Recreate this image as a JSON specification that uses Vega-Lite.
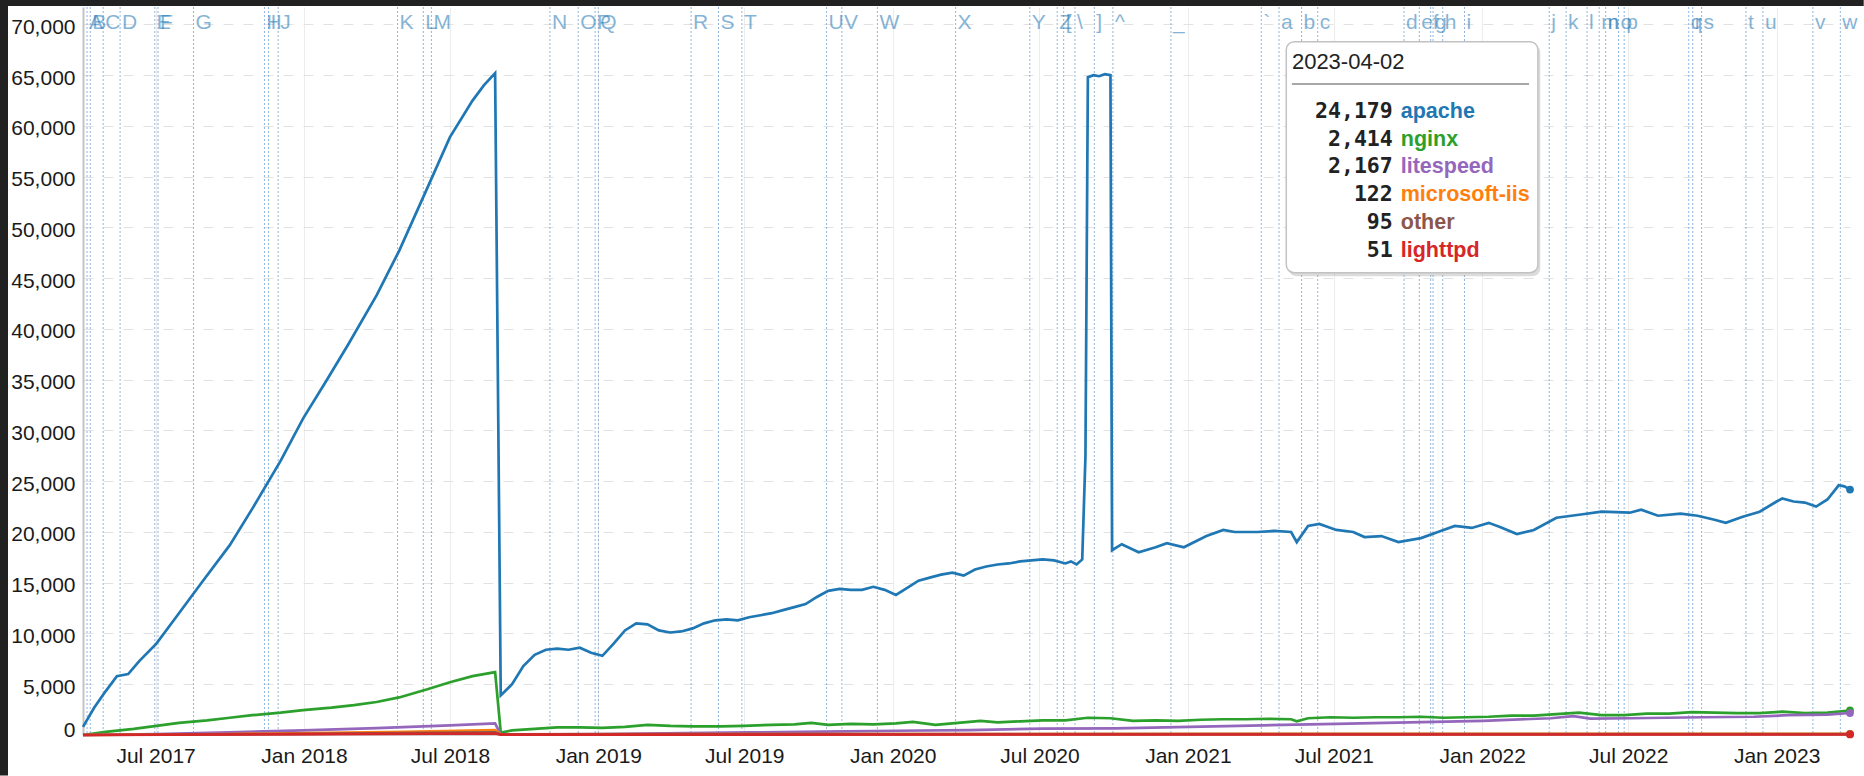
{
  "$schema": "https://vega.github.io/schema/vega-lite/v6.json",
  "width": 1767,
  "height": 728,
  "autosize": {"type": "none"},
  "padding": {"left": 83, "top": 7, "right": 14, "bottom": 41},
  "background": "white",
  "config": {
    "view": {"stroke": null},
    "axis": {"labelFont": "Liberation Sans", "labelFontSize": 21, "labelColor": "#1a1a1a", "ticks": false, "title": null},
    "text": {"font": "Liberation Sans"}
  },
  "datasets": {
    "series": [
      {"s":"apache","d":"2017-04-02","v":800},{"s":"apache","d":"2017-04-16","v":2700},{"s":"apache","d":"2017-04-30","v":4300},{"s":"apache","d":"2017-05-14","v":5800},{"s":"apache","d":"2017-05-28","v":6000},{"s":"apache","d":"2017-06-11","v":7300},{"s":"apache","d":"2017-07-02","v":9000},{"s":"apache","d":"2017-07-30","v":12000},{"s":"apache","d":"2017-08-27","v":15000},{"s":"apache","d":"2017-10-01","v":18700},{"s":"apache","d":"2017-10-29","v":22300},{"s":"apache","d":"2017-12-03","v":27000},{"s":"apache","d":"2017-12-31","v":31200},{"s":"apache","d":"2018-01-28","v":34800},{"s":"apache","d":"2018-02-25","v":38500},{"s":"apache","d":"2018-04-01","v":43300},{"s":"apache","d":"2018-04-29","v":47700},{"s":"apache","d":"2018-06-03","v":53900},{"s":"apache","d":"2018-07-01","v":58900},{"s":"apache","d":"2018-07-29","v":62500},{"s":"apache","d":"2018-08-12","v":64000},{"s":"apache","d":"2018-08-26","v":65200},{"s":"apache","d":"2018-09-02","v":3900},{"s":"apache","d":"2018-09-16","v":5000},{"s":"apache","d":"2018-09-30","v":6800},{"s":"apache","d":"2018-10-14","v":7900},{"s":"apache","d":"2018-10-28","v":8400},{"s":"apache","d":"2018-11-11","v":8500},{"s":"apache","d":"2018-11-25","v":8400},{"s":"apache","d":"2018-12-09","v":8600},{"s":"apache","d":"2018-12-23","v":8100},{"s":"apache","d":"2019-01-06","v":7800},{"s":"apache","d":"2019-01-20","v":9000},{"s":"apache","d":"2019-02-03","v":10300},{"s":"apache","d":"2019-02-17","v":11000},{"s":"apache","d":"2019-03-03","v":10900},{"s":"apache","d":"2019-03-17","v":10300},{"s":"apache","d":"2019-03-31","v":10100},{"s":"apache","d":"2019-04-14","v":10200},{"s":"apache","d":"2019-04-28","v":10500},{"s":"apache","d":"2019-05-12","v":11000},{"s":"apache","d":"2019-05-26","v":11300},{"s":"apache","d":"2019-06-09","v":11400},{"s":"apache","d":"2019-06-23","v":11300},{"s":"apache","d":"2019-07-07","v":11600},{"s":"apache","d":"2019-07-21","v":11800},{"s":"apache","d":"2019-08-04","v":12000},{"s":"apache","d":"2019-08-18","v":12300},{"s":"apache","d":"2019-09-01","v":12600},{"s":"apache","d":"2019-09-15","v":12900},{"s":"apache","d":"2019-09-29","v":13600},{"s":"apache","d":"2019-10-13","v":14200},{"s":"apache","d":"2019-10-27","v":14400},{"s":"apache","d":"2019-11-10","v":14300},{"s":"apache","d":"2019-11-24","v":14300},{"s":"apache","d":"2019-12-08","v":14600},{"s":"apache","d":"2019-12-22","v":14300},{"s":"apache","d":"2020-01-05","v":13800},{"s":"apache","d":"2020-01-19","v":14500},{"s":"apache","d":"2020-02-02","v":15200},{"s":"apache","d":"2020-02-16","v":15500},{"s":"apache","d":"2020-03-01","v":15800},{"s":"apache","d":"2020-03-15","v":16000},{"s":"apache","d":"2020-03-29","v":15700},{"s":"apache","d":"2020-04-12","v":16300},{"s":"apache","d":"2020-04-26","v":16600},{"s":"apache","d":"2020-05-10","v":16800},{"s":"apache","d":"2020-05-24","v":16900},{"s":"apache","d":"2020-06-07","v":17100},{"s":"apache","d":"2020-06-21","v":17200},{"s":"apache","d":"2020-07-05","v":17300},{"s":"apache","d":"2020-07-19","v":17200},{"s":"apache","d":"2020-08-02","v":16900},{"s":"apache","d":"2020-08-09","v":17100},{"s":"apache","d":"2020-08-16","v":16800},{"s":"apache","d":"2020-08-23","v":17300},{"s":"apache","d":"2020-08-27","v":27500},{"s":"apache","d":"2020-08-30","v":64800},{"s":"apache","d":"2020-09-06","v":65000},{"s":"apache","d":"2020-09-13","v":64900},{"s":"apache","d":"2020-09-20","v":65100},{"s":"apache","d":"2020-09-27","v":65000},{"s":"apache","d":"2020-09-29","v":18200},{"s":"apache","d":"2020-10-11","v":18800},{"s":"apache","d":"2020-11-01","v":18000},{"s":"apache","d":"2020-11-22","v":18500},{"s":"apache","d":"2020-12-06","v":18900},{"s":"apache","d":"2020-12-27","v":18500},{"s":"apache","d":"2021-01-24","v":19600},{"s":"apache","d":"2021-02-14","v":20200},{"s":"apache","d":"2021-02-28","v":20000},{"s":"apache","d":"2021-03-28","v":20000},{"s":"apache","d":"2021-04-18","v":20100},{"s":"apache","d":"2021-05-09","v":20000},{"s":"apache","d":"2021-05-16","v":19000},{"s":"apache","d":"2021-05-30","v":20600},{"s":"apache","d":"2021-06-13","v":20800},{"s":"apache","d":"2021-07-04","v":20200},{"s":"apache","d":"2021-07-25","v":20000},{"s":"apache","d":"2021-08-08","v":19500},{"s":"apache","d":"2021-08-29","v":19600},{"s":"apache","d":"2021-09-19","v":19000},{"s":"apache","d":"2021-10-17","v":19400},{"s":"apache","d":"2021-11-07","v":20000},{"s":"apache","d":"2021-11-28","v":20600},{"s":"apache","d":"2021-12-19","v":20400},{"s":"apache","d":"2022-01-09","v":20900},{"s":"apache","d":"2022-01-23","v":20500},{"s":"apache","d":"2022-02-13","v":19800},{"s":"apache","d":"2022-03-06","v":20200},{"s":"apache","d":"2022-04-03","v":21400},{"s":"apache","d":"2022-05-01","v":21700},{"s":"apache","d":"2022-05-29","v":22000},{"s":"apache","d":"2022-07-03","v":21900},{"s":"apache","d":"2022-07-17","v":22200},{"s":"apache","d":"2022-08-07","v":21600},{"s":"apache","d":"2022-09-04","v":21800},{"s":"apache","d":"2022-09-25","v":21600},{"s":"apache","d":"2022-10-16","v":21200},{"s":"apache","d":"2022-10-30","v":20900},{"s":"apache","d":"2022-11-20","v":21500},{"s":"apache","d":"2022-12-11","v":22000},{"s":"apache","d":"2023-01-01","v":23000},{"s":"apache","d":"2023-01-08","v":23300},{"s":"apache","d":"2023-01-22","v":23000},{"s":"apache","d":"2023-02-05","v":22900},{"s":"apache","d":"2023-02-19","v":22500},{"s":"apache","d":"2023-03-05","v":23200},{"s":"apache","d":"2023-03-19","v":24600},{"s":"apache","d":"2023-03-26","v":24500},{"s":"apache","d":"2023-04-02","v":24179},
      {"s":"nginx","d":"2017-04-02","v":0},{"s":"nginx","d":"2017-04-30","v":300},{"s":"nginx","d":"2017-06-04","v":600},{"s":"nginx","d":"2017-07-02","v":900},{"s":"nginx","d":"2017-07-30","v":1200},{"s":"nginx","d":"2017-09-03","v":1450},{"s":"nginx","d":"2017-10-01","v":1700},{"s":"nginx","d":"2017-10-29","v":1950},{"s":"nginx","d":"2017-12-03","v":2200},{"s":"nginx","d":"2017-12-31","v":2450},{"s":"nginx","d":"2018-02-04","v":2700},{"s":"nginx","d":"2018-03-04","v":2950},{"s":"nginx","d":"2018-04-01","v":3250},{"s":"nginx","d":"2018-04-29","v":3700},{"s":"nginx","d":"2018-06-03","v":4500},{"s":"nginx","d":"2018-07-01","v":5200},{"s":"nginx","d":"2018-07-29","v":5800},{"s":"nginx","d":"2018-08-26","v":6200},{"s":"nginx","d":"2018-09-02","v":250},{"s":"nginx","d":"2018-09-16","v":450},{"s":"nginx","d":"2018-10-14","v":600},{"s":"nginx","d":"2018-11-11","v":750},{"s":"nginx","d":"2018-12-09","v":750},{"s":"nginx","d":"2019-01-06","v":700},{"s":"nginx","d":"2019-02-03","v":800},{"s":"nginx","d":"2019-03-03","v":1000},{"s":"nginx","d":"2019-03-31","v":900},{"s":"nginx","d":"2019-04-28","v":850},{"s":"nginx","d":"2019-06-02","v":850},{"s":"nginx","d":"2019-06-30","v":900},{"s":"nginx","d":"2019-08-04","v":1000},{"s":"nginx","d":"2019-09-01","v":1050},{"s":"nginx","d":"2019-09-22","v":1200},{"s":"nginx","d":"2019-10-13","v":1000},{"s":"nginx","d":"2019-11-10","v":1100},{"s":"nginx","d":"2019-12-08","v":1050},{"s":"nginx","d":"2020-01-05","v":1150},{"s":"nginx","d":"2020-01-26","v":1300},{"s":"nginx","d":"2020-02-23","v":1000},{"s":"nginx","d":"2020-03-22","v":1200},{"s":"nginx","d":"2020-04-19","v":1400},{"s":"nginx","d":"2020-05-10","v":1250},{"s":"nginx","d":"2020-06-07","v":1350},{"s":"nginx","d":"2020-07-05","v":1450},{"s":"nginx","d":"2020-08-02","v":1450},{"s":"nginx","d":"2020-08-30","v":1700},{"s":"nginx","d":"2020-09-27","v":1650},{"s":"nginx","d":"2020-10-25","v":1400},{"s":"nginx","d":"2020-11-22","v":1450},{"s":"nginx","d":"2020-12-20","v":1400},{"s":"nginx","d":"2021-01-17","v":1500},{"s":"nginx","d":"2021-02-14","v":1550},{"s":"nginx","d":"2021-03-14","v":1550},{"s":"nginx","d":"2021-04-11","v":1600},{"s":"nginx","d":"2021-05-09","v":1550},{"s":"nginx","d":"2021-05-16","v":1350},{"s":"nginx","d":"2021-05-30","v":1650},{"s":"nginx","d":"2021-06-27","v":1750},{"s":"nginx","d":"2021-07-25","v":1700},{"s":"nginx","d":"2021-08-22","v":1750},{"s":"nginx","d":"2021-09-19","v":1750},{"s":"nginx","d":"2021-10-17","v":1800},{"s":"nginx","d":"2021-11-14","v":1700},{"s":"nginx","d":"2021-12-12","v":1750},{"s":"nginx","d":"2022-01-09","v":1800},{"s":"nginx","d":"2022-02-06","v":1900},{"s":"nginx","d":"2022-03-06","v":1900},{"s":"nginx","d":"2022-04-03","v":2050},{"s":"nginx","d":"2022-05-01","v":2200},{"s":"nginx","d":"2022-05-29","v":1950},{"s":"nginx","d":"2022-06-26","v":1950},{"s":"nginx","d":"2022-07-24","v":2100},{"s":"nginx","d":"2022-08-21","v":2100},{"s":"nginx","d":"2022-09-18","v":2250},{"s":"nginx","d":"2022-10-16","v":2200},{"s":"nginx","d":"2022-11-13","v":2150},{"s":"nginx","d":"2022-12-11","v":2150},{"s":"nginx","d":"2023-01-08","v":2300},{"s":"nginx","d":"2023-02-05","v":2150},{"s":"nginx","d":"2023-03-05","v":2200},{"s":"nginx","d":"2023-04-02","v":2414},
      {"s":"litespeed","d":"2017-04-02","v":0},{"s":"litespeed","d":"2017-07-02","v":100},{"s":"litespeed","d":"2017-10-01","v":260},{"s":"litespeed","d":"2017-12-31","v":450},{"s":"litespeed","d":"2018-04-01","v":680},{"s":"litespeed","d":"2018-07-01","v":950},{"s":"litespeed","d":"2018-08-26","v":1150},{"s":"litespeed","d":"2018-09-02","v":30},{"s":"litespeed","d":"2019-01-06","v":100},{"s":"litespeed","d":"2019-07-07","v":250},{"s":"litespeed","d":"2019-10-06","v":330},{"s":"litespeed","d":"2020-01-05","v":420},{"s":"litespeed","d":"2020-04-05","v":480},{"s":"litespeed","d":"2020-07-05","v":620},{"s":"litespeed","d":"2020-10-04","v":650},{"s":"litespeed","d":"2021-01-03","v":800},{"s":"litespeed","d":"2021-04-04","v":950},{"s":"litespeed","d":"2021-07-04","v":1100},{"s":"litespeed","d":"2021-10-03","v":1250},{"s":"litespeed","d":"2022-01-02","v":1400},{"s":"litespeed","d":"2022-03-27","v":1650},{"s":"litespeed","d":"2022-04-24","v":1850},{"s":"litespeed","d":"2022-05-15","v":1620},{"s":"litespeed","d":"2022-07-03","v":1650},{"s":"litespeed","d":"2022-10-02","v":1750},{"s":"litespeed","d":"2022-12-04","v":1800},{"s":"litespeed","d":"2023-01-15","v":1950},{"s":"litespeed","d":"2023-03-05","v":2000},{"s":"litespeed","d":"2023-04-02","v":2167},
      {"s":"microsoft-iis","d":"2017-04-02","v":0},{"s":"microsoft-iis","d":"2017-10-01","v":100},{"s":"microsoft-iis","d":"2018-01-07","v":180},{"s":"microsoft-iis","d":"2018-05-06","v":320},{"s":"microsoft-iis","d":"2018-08-26","v":480},{"s":"microsoft-iis","d":"2018-09-02","v":60},{"s":"microsoft-iis","d":"2019-06-02","v":80},{"s":"microsoft-iis","d":"2020-06-07","v":100},{"s":"microsoft-iis","d":"2021-06-06","v":110},{"s":"microsoft-iis","d":"2022-06-05","v":120},{"s":"microsoft-iis","d":"2023-04-02","v":122},
      {"s":"other","d":"2017-04-02","v":0},{"s":"other","d":"2018-01-07","v":120},{"s":"other","d":"2018-08-26","v":250},{"s":"other","d":"2018-09-02","v":60},{"s":"other","d":"2019-06-02","v":80},{"s":"other","d":"2020-06-07","v":90},{"s":"other","d":"2021-06-06","v":95},{"s":"other","d":"2022-06-05","v":95},{"s":"other","d":"2023-04-02","v":95},
      {"s":"lighttpd","d":"2017-04-02","v":0},{"s":"lighttpd","d":"2018-08-26","v":150},{"s":"lighttpd","d":"2018-09-02","v":40},{"s":"lighttpd","d":"2020-06-07","v":50},{"s":"lighttpd","d":"2023-04-02","v":51}
    ],
    "notes": [
      {"t":"A","d":"2017-04-07"},{"t":"B","d":"2017-04-11"},{"t":"C","d":"2017-04-27"},{"t":"D","d":"2017-05-18"},{"t":"E","d":"2017-06-30"},{"t":"F","d":"2017-07-04"},{"t":"G","d":"2017-08-17"},{"t":"H","d":"2017-11-13"},{"t":"I","d":"2017-11-18"},{"t":"J","d":"2017-11-30"},{"t":"K","d":"2018-04-27"},{"t":"L","d":"2018-05-29"},{"t":"M","d":"2018-06-08"},{"t":"N","d":"2018-11-02"},{"t":"O","d":"2018-12-07"},{"t":"P","d":"2018-12-28"},{"t":"Q","d":"2019-01-01"},{"t":"R","d":"2019-04-26"},{"t":"S","d":"2019-05-30"},{"t":"T","d":"2019-06-28"},{"t":"U","d":"2019-10-11"},{"t":"V","d":"2019-10-30"},{"t":"W","d":"2019-12-13"},{"t":"X","d":"2020-03-19"},{"t":"Y","d":"2020-06-19"},{"t":"Z","d":"2020-07-23"},{"t":"[","d":"2020-07-31"},{"t":"\\","d":"2020-08-14"},{"t":"]","d":"2020-09-07"},{"t":"^","d":"2020-09-30"},{"t":"_","d":"2020-12-11"},{"t":"`","d":"2021-04-02"},{"t":"a","d":"2021-04-24"},{"t":"b","d":"2021-05-22"},{"t":"c","d":"2021-06-11"},{"t":"d","d":"2021-09-26"},{"t":"e","d":"2021-10-15"},{"t":"f","d":"2021-10-29"},{"t":"g","d":"2021-11-01"},{"t":"h","d":"2021-11-13"},{"t":"i","d":"2021-12-10"},{"t":"j","d":"2022-03-25"},{"t":"k","d":"2022-04-15"},{"t":"l","d":"2022-05-11"},{"t":"m","d":"2022-05-26"},{"t":"n","d":"2022-06-03"},{"t":"o","d":"2022-06-19"},{"t":"p","d":"2022-06-26"},{"t":"q","d":"2022-09-14"},{"t":"r","d":"2022-09-19"},{"t":"s","d":"2022-09-30"},{"t":"t","d":"2022-11-24"},{"t":"u","d":"2022-12-15"},{"t":"v","d":"2023-02-15"},{"t":"w","d":"2023-03-21"}
    ],
    "legendrows": [
      {"series":"apache","value":24179,"rank":1},
      {"series":"nginx","value":2414,"rank":2},
      {"series":"litespeed","value":2167,"rank":3},
      {"series":"microsoft-iis","value":122,"rank":4},
      {"series":"other","value":95,"rank":5},
      {"series":"lighttpd","value":51,"rank":6}
    ]
  },
  "layer": [
    {
      "layer": [
        {
          "data": {"values": [{}]},
          "mark": {"type": "rect", "color": "#212121", "clip": false},
          "encoding": {
            "x": {"datum": {"year": 2016, "month": 12, "date": 20, "utc": true}, "type": "temporal"},
            "x2": {"datum": {"year": 2016, "month": 12, "date": 30, "utc": true}},
            "y": {"datum": -4000, "type": "quantitative"},
            "y2": {"datum": 72400}
          }
        },
        {
          "data": {"values": [{}]},
          "mark": {"type": "rect", "color": "#212121", "clip": false},
          "encoding": {
            "x": {"datum": {"year": 2016, "month": 12, "date": 20, "utc": true}, "type": "temporal"},
            "x2": {"datum": {"year": 2023, "month": 4, "date": 19, "utc": true}},
            "y": {"datum": 71820, "type": "quantitative"},
            "y2": {"datum": 72400}
          }
        },
        {
          "data": {"name": "notes"},
          "mark": {"type": "rule", "color": "#7ea9d6", "strokeDash": [2, 2], "strokeWidth": 1, "opacity": 0.85},
          "encoding": {
            "x": {"field": "d", "type": "temporal"}
          }
        },
        {
          "data": {"name": "series"},
          "mark": {"type": "line", "strokeWidth": 2.7},
          "encoding": {
            "x": {
              "field": "d", "type": "temporal", "title": null,
              "scale": {"type": "utc", "domain": [{"year": 2017, "month": 4, "date": 2, "utc": true}, {"year": 2023, "month": 4, "date": 2, "utc": true}], "nice": false},
              "axis": {
                "values": [
                  {"year": 2017, "month": 7, "date": 1, "utc": true},
                  {"year": 2018, "month": 1, "date": 1, "utc": true},
                  {"year": 2018, "month": 7, "date": 1, "utc": true},
                  {"year": 2019, "month": 1, "date": 1, "utc": true},
                  {"year": 2019, "month": 7, "date": 1, "utc": true},
                  {"year": 2020, "month": 1, "date": 1, "utc": true},
                  {"year": 2020, "month": 7, "date": 1, "utc": true},
                  {"year": 2021, "month": 1, "date": 1, "utc": true},
                  {"year": 2021, "month": 7, "date": 1, "utc": true},
                  {"year": 2022, "month": 1, "date": 1, "utc": true},
                  {"year": 2022, "month": 7, "date": 1, "utc": true},
                  {"year": 2023, "month": 1, "date": 1, "utc": true}
                ],
                "format": "%b %Y",
                "labelFlush": false,
                "labelPadding": 10,
                "grid": true,
                "gridColor": "#ececec",
                "gridWidth": 1,
                "domainColor": "#cfcfcf",
                "domainWidth": 1
              }
            },
            "y": {
              "field": "v", "type": "quantitative", "title": null,
              "scale": {"domain": [0, 71720], "nice": false, "zero": false},
              "axis": {
                "values": [0, 5000, 10000, 15000, 20000, 25000, 30000, 35000, 40000, 45000, 50000, 55000, 60000, 65000, 70000],
                "format": ",d",
                "labelFlush": true,
                "labelFlushOffset": 2,
                "labelOffset": 3,
                "labelPadding": 8,
                "grid": true,
                "gridColor": "#e2e2e2",
                "gridDash": [10, 10],
                "domainColor": "#c4c4c4",
                "domainWidth": 2
              }
            },
            "color": {
              "field": "s", "type": "nominal", "legend": null,
              "scale": {"domain": ["apache", "nginx", "litespeed", "microsoft-iis", "other", "lighttpd"], "range": ["#1f77b4", "#2ca02c", "#9467bd", "#ff7f0e", "#8c564b", "#d62728"]}
            },
            "order": {"field": "d", "type": "temporal"}
          }
        },
        {
          "data": {"name": "series"},
          "transform": [{"filter": {"field": "d", "gte": {"year": 2023, "month": 4, "date": 1, "utc": true}}}],
          "mark": {"type": "point", "filled": true, "size": 60, "opacity": 1},
          "encoding": {
            "x": {"field": "d", "type": "temporal", "title": null},
            "y": {"field": "v", "type": "quantitative", "title": null},
            "color": {"field": "s", "type": "nominal", "legend": null}
          }
        },
        {
          "data": {"name": "notes"},
          "mark": {"type": "text", "align": "left", "baseline": "middle", "dx": 2, "fontSize": 21, "color": "#1f77b4", "opacity": 0.55},
          "encoding": {
            "x": {"field": "d", "type": "temporal", "title": null},
            "y": {"datum": 70150, "type": "quantitative"},
            "text": {"field": "t"}
          }
        }
      ]
    },
    {
      "layer": [
        {
          "data": {"values": [{}]},
          "mark": {"type": "rect", "color": "#9a9a9a", "opacity": 0.35, "cornerRadius": 8},
          "encoding": {
            "x": {"datum": {"year": 2021, "month": 5, "date": 6, "utc": true}, "type": "temporal"},
            "x2": {"datum": {"year": 2022, "month": 3, "date": 14, "utc": true}},
            "y": {"datum": -1.42, "type": "quantitative", "scale": {"domain": [-2.77, 23.42], "reverse": true, "nice": false, "zero": false}, "axis": null},
            "y2": {"datum": 6.92}
          }
        },
        {
          "data": {"values": [{}]},
          "mark": {"type": "rect", "fill": "white", "stroke": "#c2c2c2", "strokeWidth": 1.5, "cornerRadius": 8},
          "encoding": {
            "x": {"datum": {"year": 2021, "month": 5, "date": 3, "utc": true}, "type": "temporal"},
            "x2": {"datum": {"year": 2022, "month": 3, "date": 11, "utc": true}},
            "y": {"datum": -1.52, "type": "quantitative", "axis": null},
            "y2": {"datum": 6.79}
          }
        },
        {
          "data": {"values": [{}]},
          "mark": {"type": "rule", "color": "#8a8a8a", "strokeWidth": 1.5},
          "encoding": {
            "x": {"datum": {"year": 2021, "month": 5, "date": 10, "utc": true}, "type": "temporal"},
            "x2": {"datum": {"year": 2022, "month": 2, "date": 28, "utc": true}},
            "y": {"datum": 0, "type": "quantitative", "axis": null}
          }
        },
        {
          "data": {"values": [{"label": "2023-04-02"}]},
          "mark": {"type": "text", "align": "left", "baseline": "middle", "fontSize": 22, "color": "#222222"},
          "encoding": {
            "x": {"datum": {"year": 2021, "month": 5, "date": 10, "utc": true}, "type": "temporal"},
            "y": {"datum": -0.8, "type": "quantitative", "axis": null},
            "text": {"field": "label"}
          }
        },
        {
          "data": {"name": "legendrows"},
          "mark": {"type": "text", "align": "right", "baseline": "middle", "dx": -4, "font": "DejaVu Sans Mono", "fontWeight": "bold", "fontSize": 21.5, "color": "#222222"},
          "encoding": {
            "x": {"datum": {"year": 2021, "month": 9, "date": 17, "utc": true}, "type": "temporal"},
            "y": {"field": "rank", "type": "quantitative", "axis": null},
            "text": {"field": "value", "type": "quantitative", "format": ",d"}
          }
        },
        {
          "data": {"name": "legendrows"},
          "mark": {"type": "text", "align": "left", "baseline": "middle", "dx": 4, "fontWeight": "bold", "fontSize": 21.5},
          "encoding": {
            "x": {"datum": {"year": 2021, "month": 9, "date": 17, "utc": true}, "type": "temporal"},
            "y": {"field": "rank", "type": "quantitative", "axis": null},
            "text": {"field": "series"},
            "color": {"field": "series", "type": "nominal", "legend": null}
          }
        }
      ]
    }
  ],
  "resolve": {"scale": {"y": "independent"}}
}
